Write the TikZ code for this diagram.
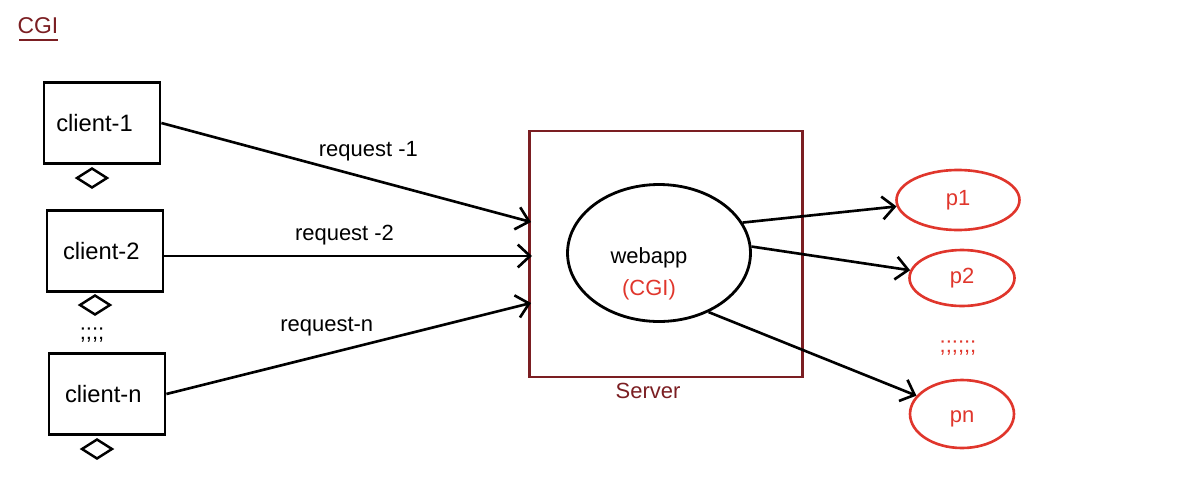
\documentclass[tikz,border=0pt]{standalone}
\usepackage{fontspec}
\setmainfont{Liberation Sans}
\usepackage{tikz}
\usetikzlibrary{positioning, shapes.geometric, arrows, arrows.meta}
\definecolor{srvred}{HTML}{7B1E22}
\definecolor{procred}{HTML}{E0362C}

\begin{document}
\begin{tikzpicture}[x=0.02cm, y=-0.02cm,
        every node/.style={font=\fontsize{12.5pt}{18pt}\selectfont},
        client/.style={draw, line width=1.6pt, minimum width=2.32cm, minimum height=1.62cm, font=\fontsize{13.5pt}{16pt}\selectfont},
        plug/.style={draw, diamond, line width=1.4pt, inner sep=0pt, minimum width=0.62cm, minimum height=0.4cm},
        proc/.style={draw=procred, ellipse, line width=1.5pt, text=procred, inner sep=0pt},
        link/.style={->, line width=1.5pt},
        >={Straight Barb[length=7pt, width=13pt]}]
            \useasboundingbox (0, 0) rectangle (1197, 487);

            \node [text=srvred, inner sep=1pt, font=\fontsize{13pt}{16pt}\selectfont] (title) at (38, 26) {CGI};
            \draw [srvred, line width=1.2pt] (19, 40) -- (58, 40);

            \node [client] (c1) at (102, 123) {client-1\kern0.3cm};
            \node [client] (c2) at (105, 251) {client-2\kern0.15cm};
            \node [client] (cn) at (107, 394) {client-n\kern0.15cm};
            \node [plug] (d1) at (92, 178) {};
            \node [plug] (d2) at (95, 305) {};
            \node [plug] (dn) at (97, 449) {};
            \node (cdots) at (92, 335) {;;;;};

            \node [draw=srvred, line width=1.5pt, minimum width=5.46cm, minimum height=4.92cm] (server) at (666, 254) {};
            \node [text=srvred] (srvlabel) at (648, 391) {Server};
            \node [draw, ellipse, line width=1.6pt, minimum width=3.66cm, minimum height=2.74cm] (webapp) at (659, 253) {};
            \node [align=center] (webtxt) at (649, 274) {webapp\\\textcolor{procred}{(CGI)}};

            \node [proc, minimum width=2.46cm, minimum height=1.2cm] (p1) at (958, 200) {p1};
            \node [proc, minimum width=2.1cm, minimum height=1.12cm] (p2) at (962, 278) {p2};
            \node [proc, minimum width=2.08cm, minimum height=1.36cm, text height=13pt, text depth=3pt] (pn) at (962, 414) {pn};
            \node [text=procred] (pdots) at (958, 348) {;;;;;;};

            \coordinate (in1) at (531, 222);
            \coordinate (in2) at (532, 256);
            \coordinate (inn) at (531, 303);

            \draw [link] (c1.east) -- (in1) node [pos=0.56, above=6pt] {request -1};
            \draw [link] (c2.east |- in2) -- (in2) node [pos=0.49, above=2pt] {request -2};
            \draw [link] (cn.east) -- (inn) node [pos=0.44, above=6pt] {request-n};

            \draw [link] (webapp.20) -- (p1);
            \draw [link] (webapp.4) -- (p2);
            \draw [link] (webapp.-50) -- (pn);
        \end{tikzpicture}
\end{document}
